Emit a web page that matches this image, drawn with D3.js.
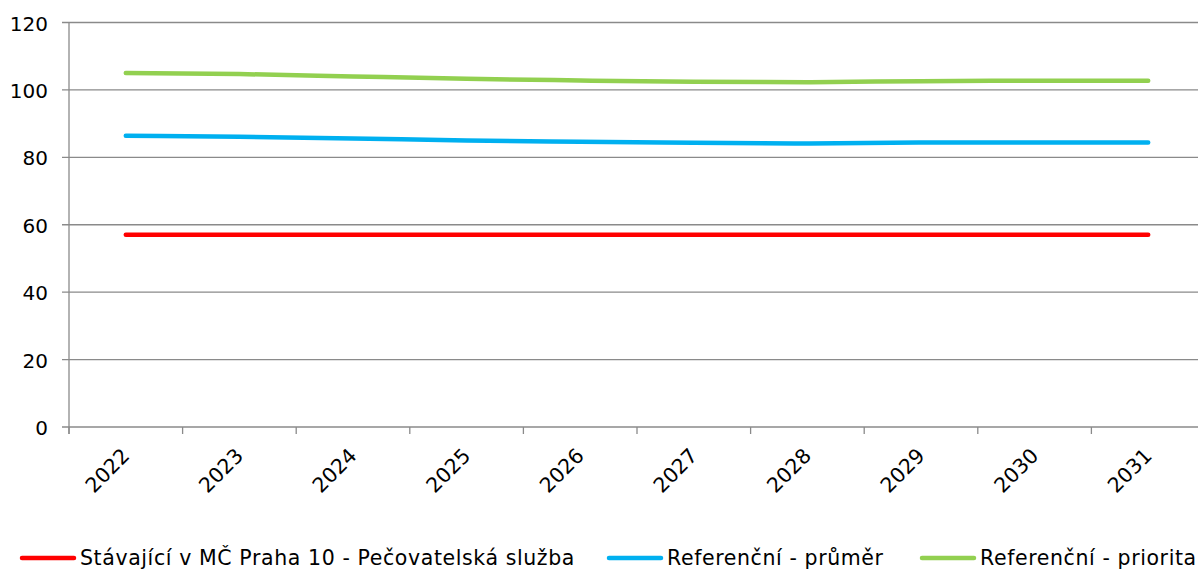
<!DOCTYPE html>
<html>
<head>
<meta charset="utf-8">
<script src="https://cdn.jsdelivr.net/npm/d3@7/dist/d3.min.js"></script>
<style>
  html, body { margin: 0; padding: 0; background: #fff; }
  svg { display: block; font-family: "DejaVu Sans", Verdana, sans-serif; }
</style>
</head>
<body>
<svg id="chart" width="1198" height="569"></svg>
<script>
const years = ["2022", "2023", "2024", "2025", "2026", "2027", "2028", "2029", "2030", "2031"];
const stavajici = [57, 57, 57, 57, 57, 57, 57, 57, 57, 57];
const prumer = [86.4, 86.1, 85.6, 85.0, 84.6, 84.3, 84.1, 84.4, 84.4, 84.4];
const priorita = [105.0, 104.7, 104.0, 103.3, 102.8, 102.4, 102.3, 102.6, 102.7, 102.7];
const yTicks = [0, 20, 40, 60, 80, 100, 120];

const seriesNames = ["Stávající v MČ Praha 10 - Pečovatelská služba", "Referenční - průměr", "Referenční - priorita"];
const seriesColors = ["#ff0000", "#00b0f0", "#92d050"];
const seriesData = [stavajici, prumer, priorita];

const svg = d3.select("#chart");
const plotLeft = 69, plotRight = 1205, plotTop = 22.5, plotBottom = 427;

const x = d3.scaleBand().domain(years).range([plotLeft, plotRight]);
const y = d3.scaleLinear().domain([0, 120]).range([plotBottom, plotTop]);

// horizontal gridlines
svg.append("g").selectAll("line").data(yTicks).join("line")
  .attr("x1", plotLeft - 7).attr("x2", plotRight)
  .attr("y1", d => y(d)).attr("y2", d => y(d))
  .attr("stroke", "#8a8a8a").attr("stroke-width", 1.3);

// y axis line
svg.append("line")
  .attr("x1", plotLeft).attr("x2", plotLeft).attr("y1", plotTop).attr("y2", plotBottom + 7)
  .attr("stroke", "#8a8a8a").attr("stroke-width", 1.3);

// x tick marks at category boundaries
const boundaries = years.map(d => x(d)).concat([plotRight]);
svg.append("g").selectAll("line").data(boundaries).join("line")
  .attr("x1", d => d).attr("x2", d => d).attr("y1", plotBottom).attr("y2", plotBottom + 7)
  .attr("stroke", "#8a8a8a").attr("stroke-width", 1.3);

// y tick labels
svg.append("g").selectAll("text").data(yTicks).join("text")
  .attr("x", 48).attr("y", d => y(d) + 8)
  .attr("text-anchor", "end")
  .attr("font-size", 20).attr("fill", "#000")
  .text(d => d);

// x tick labels, rotated
svg.append("g").selectAll("text").data(years).join("text")
  .attr("transform", d => `translate(${x(d) + x.bandwidth() / 2 + 5},${plotBottom + 30}) rotate(-45)`)
  .attr("text-anchor", "end")
  .attr("font-size", 20.5).attr("fill", "#000")
  .text(d => d);

// series lines
const line = d3.line()
  .x((d, i) => x(years[i]) + x.bandwidth() / 2)
  .y(d => y(d))
  .curve(d3.curveMonotoneX);

svg.append("g").selectAll("path").data(seriesData).join("path")
  .attr("d", d => line(d))
  .attr("fill", "none")
  .attr("stroke", (d, i) => seriesColors[i])
  .attr("stroke-width", 4.5)
  .attr("stroke-linecap", "round");

// legend
const legendX = [22, 609, 922];
const legendY = 558;
const lg = svg.append("g").selectAll("g").data(seriesNames).join("g")
  .attr("transform", (d, i) => `translate(${legendX[i]},${legendY})`);
lg.append("line")
  .attr("x1", 0).attr("x2", 52).attr("y1", 0).attr("y2", 0)
  .attr("stroke", (d, i) => seriesColors[i])
  .attr("stroke-width", 4.5).attr("stroke-linecap", "round");
lg.append("text")
  .attr("x", 58).attr("y", 7)
  .attr("font-size", 20.5).attr("letter-spacing", 0.6).attr("fill", "#000")
  .text(d => d);
</script>
</body>
</html>
